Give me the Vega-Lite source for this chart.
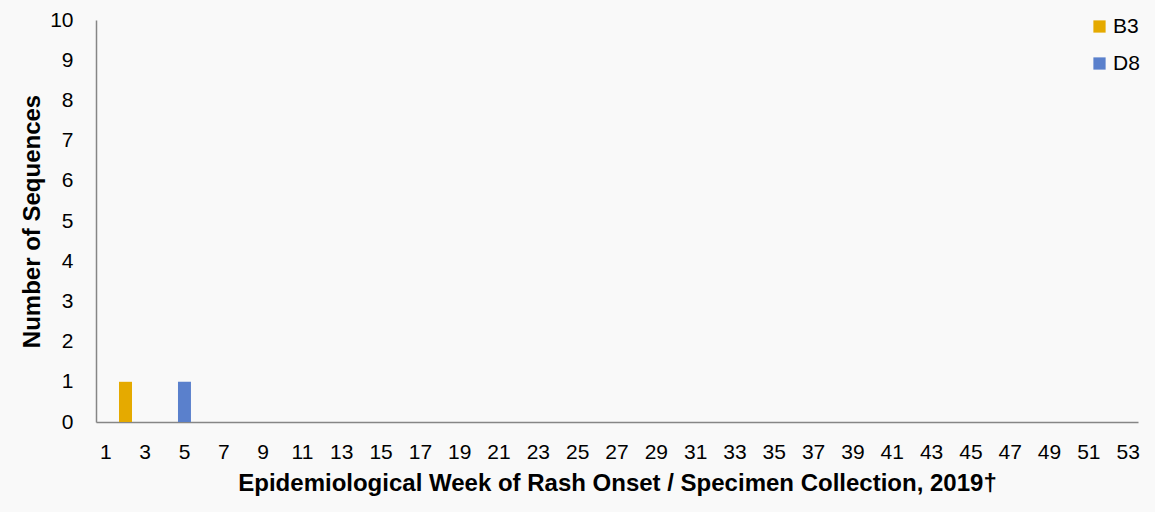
{
  "$schema": "https://vega.github.io/schema/vega-lite/v6.json",
  "width": 1042,
  "height": 402,
  "autosize": {"type": "none"},
  "padding": {"left": 96, "top": 20, "right": 17, "bottom": 90},
  "background": "#f9f9f9",
  "config": {
    "view": {"stroke": null},
    "font": "Liberation Sans",
    "axis": {
      "grid": false,
      "ticks": false,
      "domainColor": "#868686",
      "domainWidth": 1.5,
      "labelFont": "Liberation Sans",
      "labelFontSize": 21,
      "labelColor": "#000000",
      "titleFont": "Liberation Sans",
      "titleFontSize": 24,
      "titleFontWeight": "bold",
      "titleColor": "#000000"
    }
  },
  "data": {
    "values": [
      {"week": 2, "genotype": "B3", "sequences": 1},
      {"week": 5, "genotype": "D8", "sequences": 1}
    ]
  },
  "mark": {"type": "bar"},
  "encoding": {
    "x": {
      "field": "week",
      "type": "ordinal",
      "title": "Epidemiological Week of Rash Onset / Specimen Collection, 2019†",
      "scale": {
        "domain": [1,2,3,4,5,6,7,8,9,10,11,12,13,14,15,16,17,18,19,20,21,22,23,24,25,26,27,28,29,30,31,32,33,34,35,36,37,38,39,40,41,42,43,44,45,46,47,48,49,50,51,52,53],
        "paddingInner": 0.34,
        "paddingOuter": 0.17
      },
      "axis": {
        "values": [1,3,5,7,9,11,13,15,17,19,21,23,25,27,29,31,33,35,37,39,41,43,45,47,49,51,53],
        "labelAngle": 0,
        "labelPadding": 19,
        "titlePadding": 9
      }
    },
    "y": {
      "field": "sequences",
      "type": "quantitative",
      "title": "Number of Sequences",
      "scale": {"domain": [0, 10]},
      "axis": {
        "values": [0,1,2,3,4,5,6,7,8,9,10],
        "labelPadding": 23,
        "titlePadding": 5
      }
    },
    "color": {
      "field": "genotype",
      "type": "nominal",
      "title": null,
      "scale": {"domain": ["B3", "D8"], "range": ["#e5aa00", "#5a80cc"]},
      "legend": {
        "orient": "none",
        "legendX": 993,
        "legendY": -4,
        "symbolType": "square",
        "symbolSize": 150,
        "symbolStrokeWidth": 0,
        "labelFontSize": 21,
        "labelFont": "Liberation Sans",
        "labelColor": "#000000",
        "rowPadding": 15,
        "labelOffset": 3
      }
    }
  }
}
